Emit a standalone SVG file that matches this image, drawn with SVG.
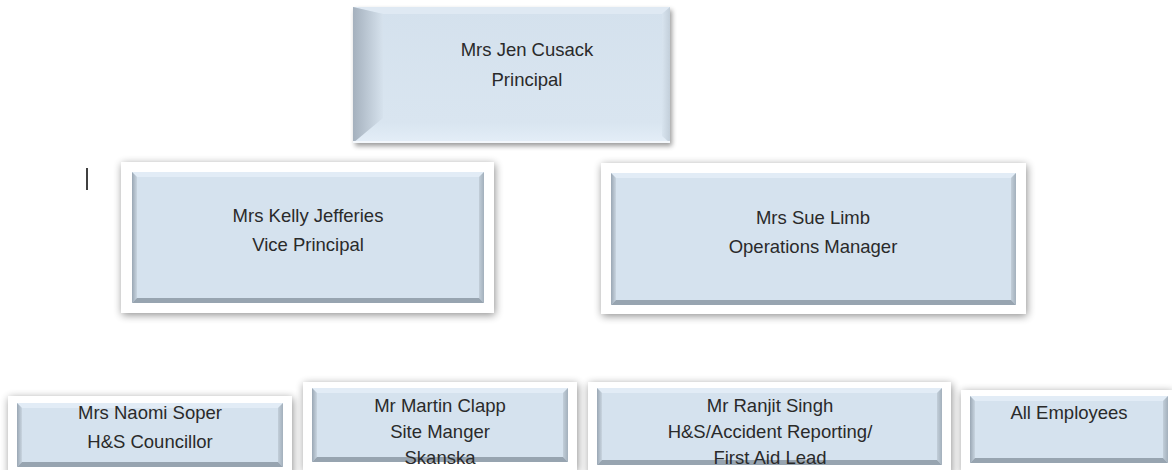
<svg xmlns="http://www.w3.org/2000/svg" width="1172" height="470" viewBox="0 0 1172 470">
<defs>
<style>
text{font-family:"Liberation Sans",Arial,sans-serif;font-size:18.5px;fill:#2a2a2a;text-anchor:middle}
.face{fill:#d5e2ee}
.top{fill:#e2ecf6}
.bot{fill:#97a4b0}
.lft{fill:url(#gl)}
.rgt{fill:url(#gr)}
.frame{fill:#ffffff;filter:url(#sh)}
</style>
<linearGradient id="gl" x1="0" y1="0" x2="1" y2="0"><stop offset="0" stop-color="#9aa7b4"/><stop offset="1" stop-color="#c9d5e0"/></linearGradient>
<linearGradient id="gr" x1="0" y1="0" x2="1" y2="0"><stop offset="0" stop-color="#c2ced9"/><stop offset="1" stop-color="#a3b0bc"/></linearGradient>
<linearGradient id="gtl" x1="0" y1="0" x2="1" y2="0"><stop offset="0" stop-color="#a4b0bd"/><stop offset="1" stop-color="#d6e2ed"/></linearGradient>
<linearGradient id="gtr" x1="0" y1="0" x2="1" y2="0"><stop offset="0" stop-color="#d8e4ef"/><stop offset="1" stop-color="#c3cfda"/></linearGradient>
<linearGradient id="gtf" x1="0" y1="0" x2="0" y2="1"><stop offset="0" stop-color="#d4e1ed"/><stop offset="0.85" stop-color="#d9e5f0"/><stop offset="1" stop-color="#e4eef8"/></linearGradient>
<filter id="sh" x="-10%" y="-20%" width="120%" height="140%"><feGaussianBlur in="SourceAlpha" stdDeviation="4"/><feOffset dx="1" dy="2"/><feComponentTransfer><feFuncA type="linear" slope="0.45"/></feComponentTransfer><feMerge><feMergeNode/><feMergeNode in="SourceGraphic"/></feMerge></filter>
<filter id="sh2" x="-10%" y="-20%" width="120%" height="140%"><feGaussianBlur in="SourceAlpha" stdDeviation="2.5"/><feOffset dx="2" dy="3"/><feComponentTransfer><feFuncA type="linear" slope="0.4"/></feComponentTransfer><feMerge><feMergeNode/><feMergeNode in="SourceGraphic"/></feMerge></filter>
</defs>
<rect width="1172" height="470" fill="#ffffff"/>
<line x1="87" y1="168" x2="87" y2="190" stroke="#000" stroke-width="1.5"/>
<g id="connectors"></g>
<g id="principal">
<rect x="353" y="7" width="317" height="136" fill="url(#gtf)" filter="url(#sh2)"/>
<polygon fill="#dfe9f3" points="353,7 670,7 662,14 383,14"/>
<polygon fill="url(#gtl)" points="353,7 383,14 383,118 353,143"/>
<polygon fill="url(#gtr)" points="670,7 670,143 662,136 662,14"/>
<line x1="353" y1="142" x2="670" y2="142" stroke="#f4f8fc" stroke-width="2"/>
<text x="527" y="56">Mrs Jen Cusack</text>
<text x="527" y="86">Principal</text>
</g>
<g id="vice-principal">
<rect class="frame" x="121" y="162" width="373" height="151"/>
<rect class="face" x="132" y="172" width="352" height="131"/>
<polygon class="top" points="132,172 484,172 479,177 137,177"/>
<polygon class="lft" points="132,172 137,177 137,298 132,303"/>
<polygon class="rgt" points="484,172 484,303 479,298 479,177"/>
<polygon class="bot" points="132,303 484,303 479,298 137,298"/>
<text x="308" y="222">Mrs Kelly Jefferies</text>
<text x="308" y="251">Vice Principal</text>
</g>
<g id="operations-manager">
<rect class="frame" x="601" y="163" width="425" height="151"/>
<rect class="face" x="611" y="173" width="405" height="132"/>
<polygon class="top" points="611,173 1016,173 1011,178 616,178"/>
<polygon class="lft" points="611,173 616,178 616,300 611,305"/>
<polygon class="rgt" points="1016,173 1016,305 1011,300 1011,178"/>
<polygon class="bot" points="611,305 1016,305 1011,300 616,300"/>
<text x="813" y="224">Mrs Sue Limb</text>
<text x="813" y="253">Operations Manager</text>
</g>
<g id="naomi-soper">
<rect class="frame" x="8" y="396" width="284" height="80"/>
<rect class="face" x="17" y="403" width="266" height="64"/>
<polygon class="top" points="17,403 283,403 278,408 22,408"/>
<polygon class="lft" points="17,403 22,408 22,462 17,467"/>
<polygon class="rgt" points="283,403 283,467 278,462 278,408"/>
<polygon class="bot" points="17,467 283,467 278,462 22,462"/>
<text x="150" y="419">Mrs Naomi Soper</text>
<text x="150" y="448">H&amp;S Councillor</text>
</g>
<g id="martin-clapp">
<rect class="frame" x="303" y="382" width="274" height="88"/>
<rect class="face" x="312" y="388" width="256" height="74"/>
<polygon class="top" points="312,388 568,388 563,393 317,393"/>
<polygon class="lft" points="312,388 317,393 317,457 312,462"/>
<polygon class="rgt" points="568,388 568,462 563,457 563,393"/>
<polygon class="bot" points="312,462 568,462 563,457 317,457"/>
<text x="440" y="412">Mr Martin Clapp</text>
<text x="440" y="438">Site Manger</text>
<text x="440" y="464">Skanska</text>
</g>
<g id="ranjit-singh">
<rect class="frame" x="588" y="382" width="363" height="92"/>
<rect class="face" x="597" y="388" width="345" height="77"/>
<polygon class="top" points="597,388 942,388 937,393 602,393"/>
<polygon class="lft" points="597,388 602,393 602,460 597,465"/>
<polygon class="rgt" points="942,388 942,465 937,460 937,393"/>
<polygon class="bot" points="597,465 942,465 937,460 602,460"/>
<text x="770" y="412">Mr Ranjit Singh</text>
<text x="770" y="438">H&amp;S/Accident Reporting/</text>
<text x="770" y="464">First Aid Lead</text>
</g>
<g id="all-employees">
<rect class="frame" x="961" y="390" width="211" height="82"/>
<rect class="face" x="970" y="396" width="198" height="67"/>
<polygon class="top" points="970,396 1168,396 1163,401 975,401"/>
<polygon class="lft" points="970,396 975,401 975,458 970,463"/>
<polygon class="rgt" points="1168,396 1168,463 1163,458 1163,401"/>
<polygon class="bot" points="970,463 1168,463 1163,458 975,458"/>
<text x="1069" y="419">All Employees</text>
</g>
</svg>
